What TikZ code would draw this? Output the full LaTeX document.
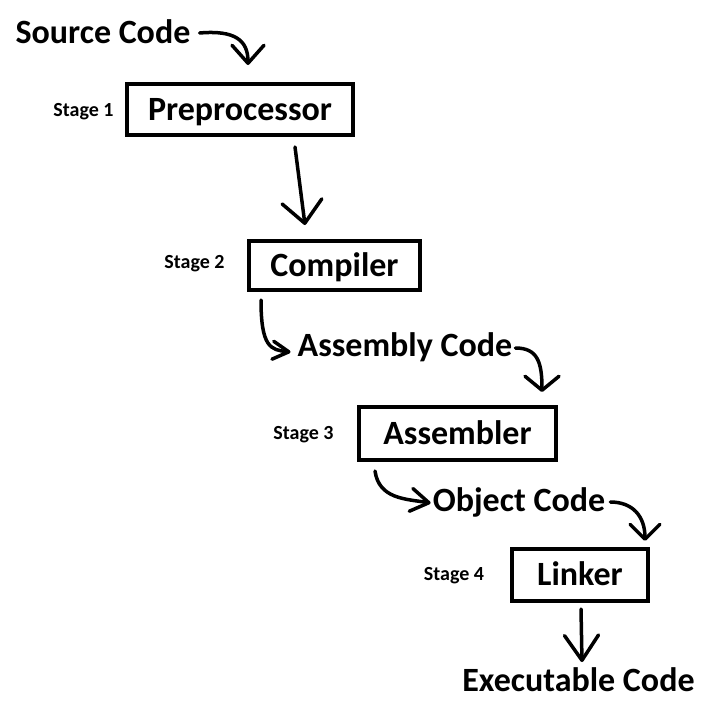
\documentclass[tikz,border=0pt]{standalone}
\usepackage{fontspec}
\setmainfont{Carlito}
\usetikzlibrary{arrows.meta,calc}
\begin{document}
\begin{tikzpicture}[x=1pt,y=-1pt,
  box/.style={draw, line width=4pt, inner sep=0pt, font=\bfseries\fontsize{34}{40}\selectfont, text height=21.5pt, text depth=0pt},
  lbl/.style={inner sep=0pt, font=\bfseries\fontsize{34}{40}\selectfont, text height=21.5pt, text depth=0pt},
  stage/.style={inner sep=0pt, font=\bfseries\fontsize{20}{24}\selectfont, text height=12.6pt, text depth=0pt},
  hand/.style={line width=3.5pt, line cap=round, line join=round},
]
\useasboundingbox[fill=white] (0,0) rectangle (720,712);

% boxes
\node[box, minimum width=226pt, minimum height=51pt] (pre) at (240,109.5) {Preprocessor};
\node[box, minimum width=171pt, minimum height=49pt] (comp) at (334.5,265.5) {Compiler};
\node[box, minimum width=197pt, minimum height=53pt] (asm) at (457.5,433.5) {Assembler};
\node[box, minimum width=136pt, minimum height=52pt] (link) at (580,575) {Linker};

% code labels
\node[lbl] (src) at (103,33) {Source Code};
\node[lbl] (asmc) at (405,346) {Assembly Code};
\node[lbl] (obj) at (519,501) {Object Code};
\node[lbl] (exe) at (578.5,681) {Executable Code};

% stage labels
\node[stage] (s1) at (83.5,110) {Stage 1};
\node[stage] (s2) at (194.5,262) {Stage 2};
\node[stage] (s3) at (303.5,433) {Stage 3};
\node[stage] (s4) at (454,574) {Stage 4};

% arrows
\draw[hand, -{Straight Barb[length=18pt,width=32pt,round]}]
  ($(src.east)+(9,0)$) .. controls +(35,-3) and +(0,-25) .. ($(pre.north)+(8,-17)$);
\draw[hand, -{Straight Barb[length=22pt,width=40pt,round]}]
  ($(pre.south)+(55,10)$) -- ($(comp.north)+(-29.5,-14)$);
\draw[hand, -{Straight Barb[length=16pt,width=18pt,round]}]
  ($(comp.south west)+(14,8)$) .. controls +(0,47) and +(-20,-2) .. ($(asmc.west)+(-7,6)$);
\draw[hand, -{Straight Barb[length=14pt,width=34pt,round]}]
  ($(asmc.east)+(3,2)$) .. controls +(22,0) and +(0,-30) .. ($(asm.north)+(84.5,-13)$);
\draw[hand, -{Straight Barb[length=18pt,width=23pt,round]}]
  ($(asm.south west)+(18,9)$) .. controls +(4,28) and +(-25,-4) .. ($(obj.west)+(-2,2)$);
\draw[hand, -{Straight Barb[length=15pt,width=30pt,round]}]
  ($(obj.east)+(5,1)$) .. controls +(22,0) and +(0,-25) .. ($(link.north)+(65,-6)$);
\draw[hand, -{Straight Barb[length=25pt,width=34pt,round]}]
  ($(link.south)+(1,6)$) -- ($(exe.north)+(3.5,-8)$);
\end{tikzpicture}
\end{document}
